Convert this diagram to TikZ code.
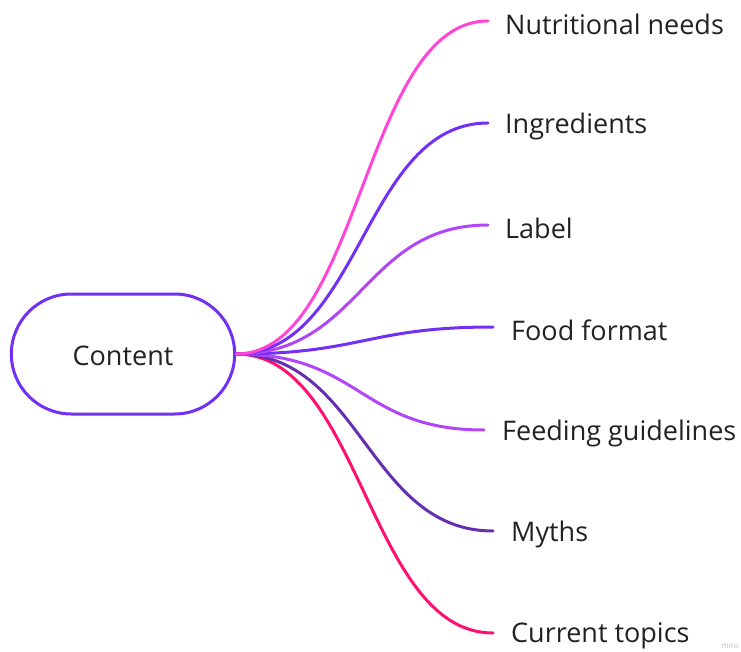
\documentclass[tikz,border=0pt]{standalone}
\usepackage{fontspec}
\setmainfont{Open Sans}
\usetikzlibrary{shapes.misc}
\definecolor{cPink}{HTML}{FF45D8}
\definecolor{cViolet}{HTML}{7230F5}
\definecolor{cLilac}{HTML}{B245F5}
\definecolor{cPlum}{HTML}{6530B0}
\definecolor{cRose}{HTML}{FF1070}
\definecolor{cText}{HTML}{222222}
\tikzset{
  rootbox/.style={rounded rectangle, draw=cViolet, line width=3pt, fill=white,
    minimum width=230pt, minimum height=120pt},
  roottext/.style={inner sep=0pt, text=cText, font=\fontsize{27}{32}\selectfont},
  leaf/.style={anchor=west, inner sep=0pt, text=cText, font=\fontsize{27}{32}\selectfont},
  branch/.style={line width=3pt, line cap=round},
}
\newcommand{\branchto}[3]{%
  \draw[branch, #1] (root.east) .. controls ([xshift=#3pt]root.east) and ([xshift=-#3pt]#2) .. (#2);}
\begin{document}
\begin{tikzpicture}[x=1pt,y=-1pt]
\useasboundingbox (0,0) rectangle (741,652);
% end points of the branches
\coordinate (e1) at (488,21);
\coordinate (e2) at (488,123);
\coordinate (e3) at (488,225);
\coordinate (e4) at (493,327);
\coordinate (e5) at (484,430);
\coordinate (e6) at (493,531);
\coordinate (e7) at (493,633);
% central topic
\node[rootbox] (root) at (123,354) {};
\node[roottext] (ct) at (123,356) {Content};
% branches
\branchto{cRose}{e7}{125}
\branchto{cPlum}{e6}{125}
\branchto{cLilac}{e5}{125}
\branchto{cViolet}{e4}{125}
\branchto{cLilac}{e3}{125}
\branchto{cViolet}{e2}{125}
\branchto{cPink}{e1}{125}
% leaf labels
\node[leaf] (n1) at (505,24) {Nutritional needs};
\node[leaf] (n2) at (505,126) {Ingredients};
\node[leaf] (n3) at (505,228) {Label};
\node[leaf] (n4) at (511,330) {Food format};
\node[leaf] (n5) at (502,433) {Feeding guidelines};
\node[leaf] (n6) at (511,534) {Myths};
\node[leaf] (n7) at (511,636) {Current topics};
\node[anchor=east, inner sep=0pt, text=black!25, font=\fontsize{8}{9}\selectfont] (wm) at (739,646) {miro};
\end{tikzpicture}
\end{document}
